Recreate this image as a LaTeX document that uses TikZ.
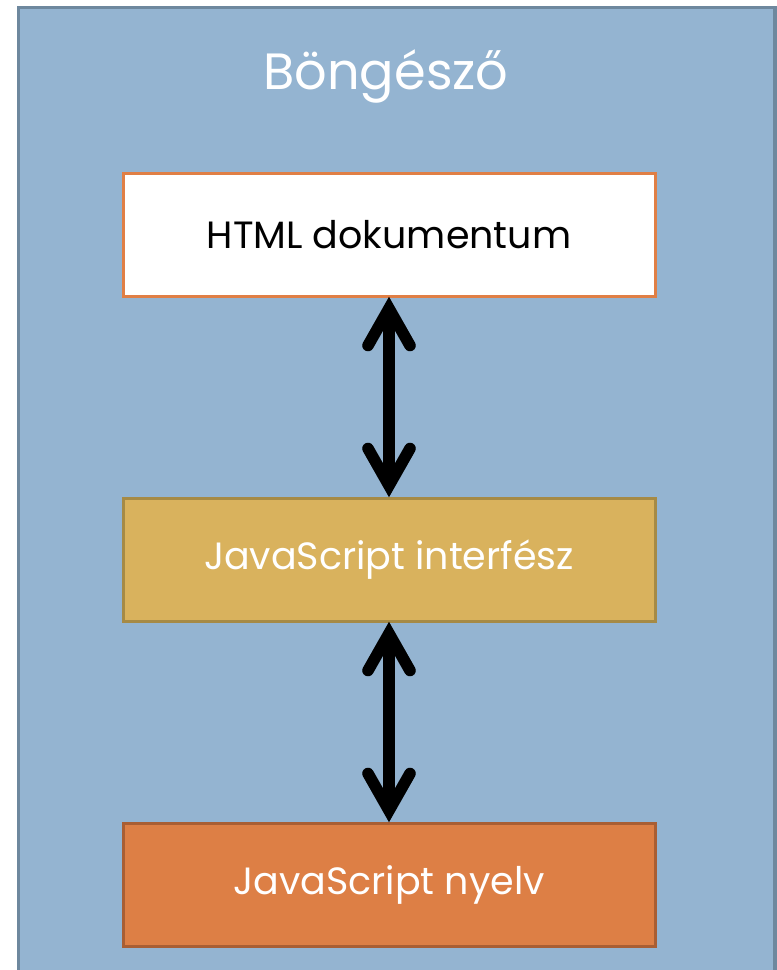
\documentclass[tikz,border=0pt]{standalone}
\usepackage{fontspec}
\setmainfont{Poppins}
\usetikzlibrary{calc}
\definecolor{bgblue}{HTML}{94B4D1}
\definecolor{bgborder}{HTML}{6E889E}
\definecolor{htmlborder}{HTML}{E07F45}
\definecolor{jsifill}{HTML}{D9B25D}
\definecolor{jsiborder}{HTML}{A68A45}
\definecolor{jsnfill}{HTML}{DD7F45}
\definecolor{jsnborder}{HTML}{A95E33}
\tikzset{
  px/.style={x=1pt,y=-1pt},
  layerbox/.style={minimum width=532pt,minimum height=123pt,line width=3pt,inner sep=0pt},
  boxtext/.style={font=\fontsize{38}{46}\selectfont},
  shaft/.style={line width=11.5pt,line cap=butt},
  barb/.style={line width=11.5pt,line cap=round,line join=miter},
  shadowline/.style={black,opacity=0.25}
}
\begin{document}
\begin{tikzpicture}[px]
\useasboundingbox (0,0) rectangle (777,970);
\begin{scope}
\clip (0,0) rectangle (777,970);
\draw[bgborder,fill=bgblue,line width=3.5pt] (18.5,7.5) rectangle (775,990);
\end{scope}
\node[text=white,font=\fontsize{51}{60}\selectfont] (title) at (386,76) {Böngésző};
\node[layerbox,draw=htmlborder,fill=white,boxtext,text=black] (html) at (389,234.5) {HTML dokumentum};
\node[layerbox,draw=jsiborder,fill=jsifill,boxtext,text=white] (jsi) at (389,559.5) {JavaScript interfész};
\node[layerbox,draw=jsnborder,fill=jsnfill,boxtext,text=white] (jsn) at (389,884.5) {JavaScript nyelv};
\coordinate (a1t) at ($(html.south)+(0,11)$);
\coordinate (a1b) at ($(jsi.north)+(0,-11)$);
\coordinate (a2t) at ($(jsi.south)+(0,11)$);
\coordinate (a2b) at ($(jsn.north)+(0,-11)$);
\foreach \t/\b in {a1t/a1b,a2t/a2b}{
  \begin{scope}[shadowline,shift={(1.5,3)}]
    \draw[shaft] (\t) -- (\b);
    \draw[barb] ($(\t)+(-21,37)$) -- (\t) -- ($(\t)+(21,37)$);
    \draw[barb] ($(\b)+(-21,-37)$) -- (\b) -- ($(\b)+(21,-37)$);
  \end{scope}
  \draw[shaft] (\t) -- (\b);
  \draw[barb] ($(\t)+(-21,37)$) -- (\t) -- ($(\t)+(21,37)$);
  \draw[barb] ($(\b)+(-21,-37)$) -- (\b) -- ($(\b)+(21,-37)$);
}
\end{tikzpicture}
\end{document}
